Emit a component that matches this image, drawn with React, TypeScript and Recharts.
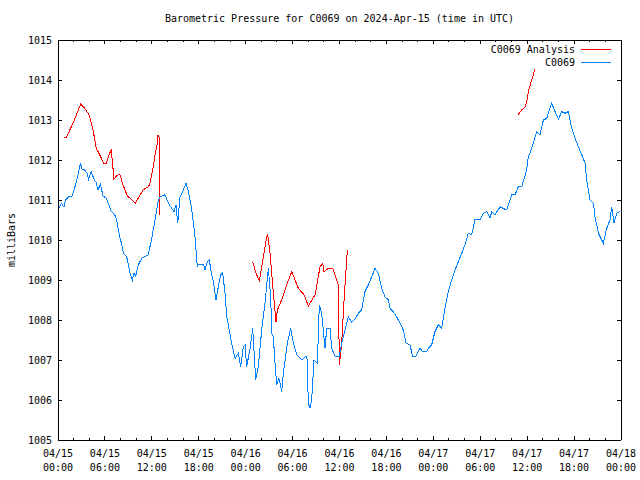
import { LineChart, Line, XAxis, YAxis } from "recharts";

// hours since 04/15 00:00 UTC
const stationHours = [
  0.05, 0.21, 0.43, 0.77, 0.94, 1.49, 1.79, 2.05, 2.35, 2.56, 2.86, 3.07, 3.41, 3.71, 3.92, 4.26, 4.6, 4.9,
  5.12, 5.41, 5.76, 6.18, 6.6, 6.82, 7.25, 7.46, 7.89, 8.02, 8.36, 8.78, 9.21, 9.51, 9.72, 9.93, 10.27, 10.7,
  11.0, 11.55, 11.98, 12.41, 12.83, 13.04, 13.68, 14.11, 14.54, 14.84, 15.09, 15.31, 15.6, 16.03, 16.37, 16.67,
  17.09, 17.52, 17.82, 17.95, 18.59, 18.8, 19.1, 19.35, 19.65, 19.86, 20.21, 20.5, 20.8, 21.06, 21.36, 21.57,
  22.21, 22.64, 23.06, 23.36, 23.7, 23.92, 24.13, 24.56, 24.9, 25.28, 25.62, 26.05, 26.47, 26.9, 27.2, 27.33,
  27.54, 27.75, 27.97, 28.26, 28.61, 28.82, 29.33, 29.76, 30.1, 30.53, 31.17, 31.72, 31.9, 32.0, 32.23, 32.44,
  32.74, 33.17, 33.42, 33.72, 34.15, 34.36, 34.79, 35.0, 35.43, 35.98, 36.28, 36.7, 37.13, 37.56, 37.98, 38.41,
  38.83, 39.26, 39.69, 40.12, 40.54, 40.97, 41.4, 41.82, 42.25, 42.46, 42.88, 43.31, 43.74, 44.16, 44.51, 45.02,
  45.32, 45.79, 46.3, 46.64, 47.15, 47.36, 47.79, 48.21, 48.64, 49.07, 49.49, 49.92, 50.35, 50.77, 51.2, 51.63,
  52.05, 52.48, 52.91, 53.33, 53.97, 54.4, 54.83, 55.25, 55.47, 55.89, 56.53, 57.38, 58.02, 58.45, 58.87, 59.3,
  59.94, 60.15, 60.58, 61.22, 61.64, 62.07, 62.5, 63.14, 63.56, 63.99, 64.42, 64.84, 65.27, 65.7, 66.12, 66.55,
  66.98, 67.4, 67.62, 68.04, 68.47, 68.68, 69.11, 69.74, 70.17, 70.59, 70.81, 71.1, 71.45, 71.88,
];
const stationPressure = [
  1010.8, 1010.83, 1010.92, 1010.82, 1011.0, 1011.1, 1011.1, 1011.25, 1011.46, 1011.63, 1011.92, 1011.77,
  1011.75, 1011.67, 1011.52, 1011.71, 1011.52, 1011.43, 1011.25, 1011.4, 1011.1, 1011.04, 1010.83, 1010.71,
  1010.63, 1010.54, 1010.08, 1010.0, 1009.67, 1009.58, 1009.17, 1009.0, 1009.17, 1009.1, 1009.38, 1009.54,
  1009.58, 1009.63, 1010.04, 1010.5, 1011.0, 1011.08, 1011.13, 1010.92, 1010.79, 1010.71, 1010.88, 1010.42,
  1011.08, 1011.25, 1011.42, 1011.21, 1010.79, 1010.08, 1009.33, 1009.4, 1009.4, 1009.25, 1009.46, 1009.5,
  1009.13, 1008.96, 1008.5, 1008.83, 1009.13, 1009.18, 1008.67, 1008.1, 1007.42, 1007.04, 1007.17, 1006.83,
  1007.33, 1007.38, 1006.83, 1007.29, 1007.79, 1006.5, 1006.83, 1007.75, 1008.42, 1009.29, 1008.58, 1007.67,
  1007.58, 1006.92, 1006.38, 1006.54, 1006.21, 1006.67, 1007.42, 1007.79, 1007.42, 1007.13, 1007.0, 1007.1,
  1007.0, 1005.92, 1005.79, 1006.0, 1007.0, 1006.92, 1008.38, 1008.17, 1007.29, 1007.79, 1007.79, 1007.29,
  1007.1, 1007.1, 1007.42, 1007.75, 1008.08, 1007.94, 1008.02, 1008.17, 1008.25, 1008.71, 1008.88, 1009.08,
  1009.29, 1009.17, 1008.79, 1008.58, 1008.5, 1008.29, 1008.21, 1008.08, 1007.92, 1007.75, 1007.42, 1007.38,
  1007.1, 1007.1, 1007.29, 1007.21, 1007.21, 1007.29, 1007.38, 1007.71, 1007.88, 1007.79, 1008.29, 1008.71,
  1009.0, 1009.25, 1009.46, 1009.67, 1009.88, 1010.17, 1010.13, 1010.52, 1010.5, 1010.67, 1010.71, 1010.54,
  1010.71, 1010.63, 1010.83, 1010.75, 1011.13, 1011.13, 1011.33, 1011.33, 1011.75, 1012.08, 1012.29, 1012.71,
  1012.63, 1013.0, 1013.04, 1013.42, 1013.21, 1013.02, 1013.21, 1013.17, 1013.21, 1012.79, 1012.54, 1012.33,
  1012.13, 1011.92, 1011.5, 1011.0, 1010.92, 1010.58, 1010.17, 1009.92, 1010.29, 1010.5, 1010.83, 1010.42,
  1010.67, 1010.71,
];

// analysis run, null marks a gap
const analysisHours = [
  0.77, 1.07, 1.92, 2.35, 2.9, 3.41, 3.84, 4.05, 4.48, 4.9, 5.33, 5.84, 6.18, 6.61, 6.82, 7.16, 7.46, 7.89,
  8.31, 8.87, 9.38, 9.89, 10.87, 11.51, 11.72, 12.15, 12.45, 12.66, 12.8, 12.96, 12.98, 18.0,
  24.9, 25.32, 25.75, 26.26, 26.69, 26.82, 27.11, 27.62, 27.88, 28.05, 28.61, 29.25, 29.89, 30.74, 31.46,
  32.02, 32.88, 33.51, 33.86, 34.02, 34.57, 35.13, 35.64, 35.85, 35.98, 36.28, 36.58, 37.0, 45.0,
  58.87, 59.3, 59.73, 59.94, 60.15, 60.58, 61.0,
];
const analysisPressure = [
  1012.57, 1012.57, 1012.92, 1013.13, 1013.4, 1013.29, 1013.17, 1013.08, 1012.75, 1012.29, 1012.13, 1011.92,
  1011.92, 1012.17, 1012.25, 1011.52, 1011.6, 1011.65, 1011.38, 1011.1, 1011.02, 1010.92, 1011.25, 1011.33,
  1011.38, 1011.79, 1012.17, 1012.38, 1012.63, 1012.55, 1010.63, null,
  1009.46, 1009.17, 1008.98, 1009.58, 1010.08, 1010.13, 1009.67, 1008.5, 1007.96, 1008.25, 1008.5, 1008.88,
  1009.21, 1008.79, 1008.63, 1008.35, 1008.63, 1009.33, 1009.42, 1009.21, 1009.29, 1009.29, 1009.0, 1008.88,
  1006.88, 1007.42, 1008.5, 1009.75, null,
  1013.14, 1013.25, 1013.33, 1013.46, 1013.71, 1014.0, 1014.27,
];

const xTickHours = [0, 6, 12, 18, 24, 30, 36, 42, 48, 54, 60, 66, 72];
const xTickDates = ["04/15", "04/15", "04/15", "04/15", "04/16", "04/16", "04/16", "04/16", "04/17", "04/17", "04/17", "04/17", "04/18"];
const xTickTimes = ["00:00", "06:00", "12:00", "18:00", "00:00", "06:00", "12:00", "18:00", "00:00", "06:00", "12:00", "18:00", "00:00"];
const yTicks = [1005, 1006, 1007, 1008, 1009, 1010, 1011, 1012, 1013, 1014, 1015];

const FONT = '"DejaVu Sans Mono", "Liberation Mono", monospace';
const RED = "#ff0000";
const BLUE = "#0080ff";

const stationData = stationHours.map((h, i) => ({ hour: h, pressure: stationPressure[i] }));
const analysisData = analysisHours.map((h, i) => ({ hour: h, pressure: analysisPressure[i] }));
// major ticks every 6h, minor ones every 2h between them
const xAllTicks = xTickHours.flatMap((h, i) => (i < xTickHours.length - 1 ? [h, h + 2, h + 4] : [h]));

function XTick(props: any) {
  const { x, y, payload, top } = props;
  const i = xTickHours.indexOf(payload.value);
  const len = i >= 0 ? 4 : 2;
  const dir = top ? 1 : -1;
  return (
    <g>
      <line x1={x} x2={x} y1={y} y2={y + dir * len} stroke="#000" shapeRendering="crispEdges" />
      {!top && i >= 0 && (
        <text x={x} y={y} textAnchor="middle" fontFamily={FONT} fontSize={10} fill="#000">
          <tspan x={x} dy={17}>{xTickDates[i]}</tspan>
          <tspan x={x} dy={14}>{xTickTimes[i]}</tspan>
        </text>
      )}
    </g>
  );
}

function YTick(props: any) {
  const { x, y, payload, right } = props;
  const dir = right ? -1 : 1;
  return (
    <g>
      <line x1={x} x2={x + dir * 4} y1={y} y2={y} stroke="#000" shapeRendering="crispEdges" />
      {!right && (
        <text x={x - 6} y={y + 3.5} textAnchor="end" fontFamily={FONT} fontSize={10} fill="#000">
          {payload.value}
        </text>
      )}
    </g>
  );
}

const axisLine = { stroke: "#000", shapeRendering: "crispEdges" } as any;

export default function App() {
  return (
    <div style={{ position: "absolute", left: 0, top: 0, width: 640, height: 480, background: "#fff", fontFamily: FONT }}>
      <LineChart width={640} height={480} margin={{ top: 0, right: 0, bottom: 0, left: 0 }}>
        <XAxis
          dataKey="hour"
          type="number"
          domain={[0, 72]}
          ticks={xAllTicks}
          interval={0}
          height={40}
          tickSize={0}
          tickMargin={0}
          tickLine={false}
          axisLine={axisLine}
          tick={<XTick />}
          allowDataOverflow
        />
        <XAxis
          xAxisId="top"
          orientation="top"
          dataKey="hour"
          type="number"
          domain={[0, 72]}
          ticks={xAllTicks}
          interval={0}
          height={40}
          tickSize={0}
          tickMargin={0}
          tickLine={false}
          axisLine={axisLine}
          tick={<XTick top />}
          allowDataOverflow
        />
        <YAxis
          type="number"
          domain={[1005, 1015]}
          ticks={yTicks}
          interval={0}
          width={58}
          tickSize={0}
          tickMargin={0}
          tickLine={false}
          axisLine={axisLine}
          tick={<YTick />}
          allowDataOverflow
        />
        <YAxis
          yAxisId="right"
          orientation="right"
          type="number"
          domain={[1005, 1015]}
          ticks={yTicks}
          interval={0}
          width={19}
          tickSize={0}
          tickMargin={0}
          tickLine={false}
          axisLine={axisLine}
          tick={<YTick right />}
          allowDataOverflow
        />
        <Line
          data={analysisData}
          dataKey="pressure"
          type="linear"
          stroke={RED}
          strokeWidth={1}
          dot={false}
          connectNulls={false}
          isAnimationActive={false}
          shapeRendering="crispEdges"
        />
        <Line
          data={stationData}
          dataKey="pressure"
          type="linear"
          stroke={BLUE}
          strokeWidth={1}
          dot={false}
          isAnimationActive={false}
          shapeRendering="crispEdges"
        />
      </LineChart>

      <div style={{ position: "absolute", left: 58, width: 563, top: 13, fontSize: 10, lineHeight: "12px", textAlign: "center", color: "#000" }}>
        Barometric Pressure for C0069 on 2024-Apr-15 (time in UTC)
      </div>

      <div style={{ position: "absolute", left: -18, top: 234, width: 60, height: 12, fontSize: 10, lineHeight: "12px", textAlign: "center", transform: "rotate(-90deg)", color: "#000" }}>
        milliBars
      </div>

      <div style={{ position: "absolute", left: 379, top: 43, width: 232, fontSize: 10, color: "#000" }}>
        {[
          { name: "C0069 Analysis", color: RED },
          { name: "C0069", color: BLUE },
        ].map((s) => (
          <div key={s.name} style={{ display: "flex", justifyContent: "flex-end", alignItems: "center", height: 13, lineHeight: "13px" }}>
            <span>{s.name}</span>
            <span style={{ display: "inline-block", width: 30, height: 0, borderTop: `1px solid ${s.color}`, marginLeft: 6 }} />
          </div>
        ))}
      </div>
    </div>
  );
}
